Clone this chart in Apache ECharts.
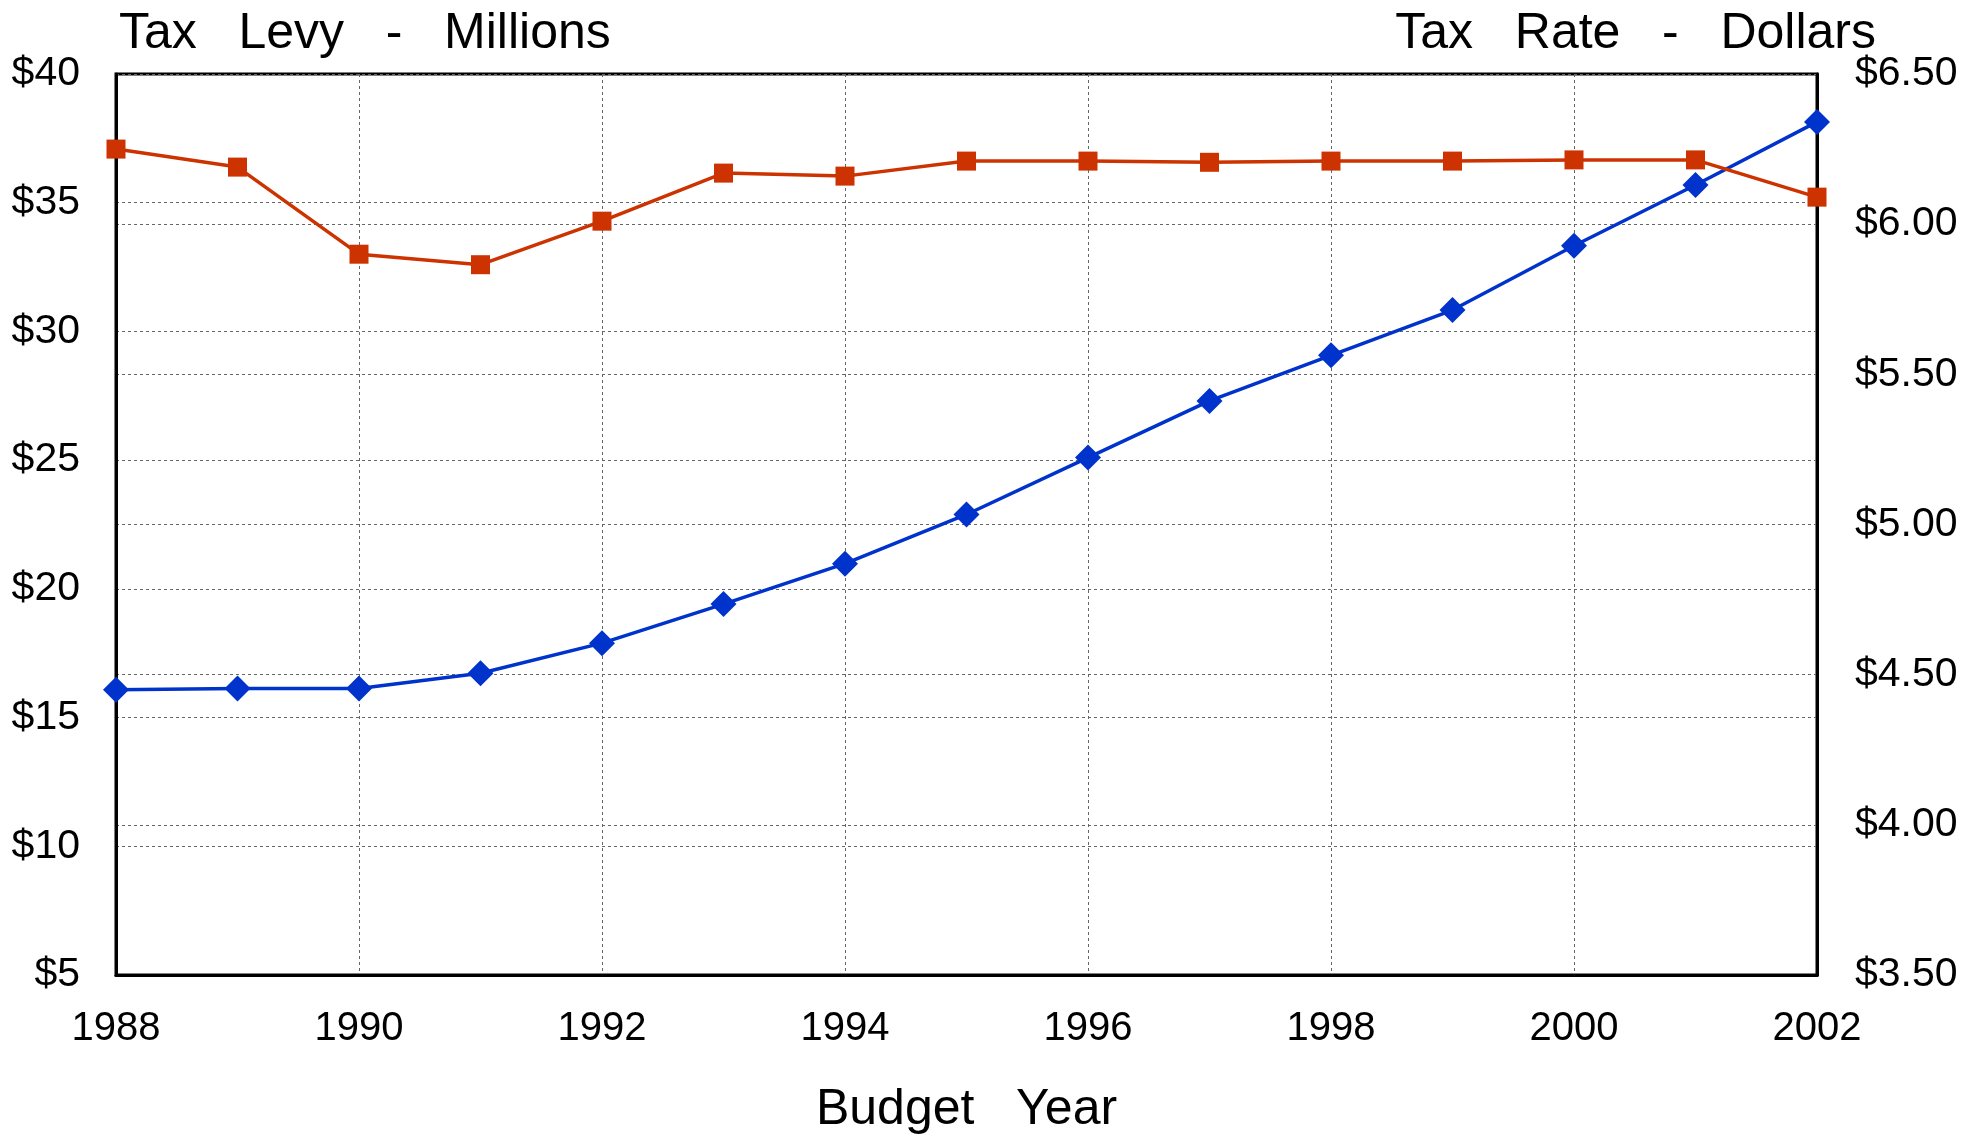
<!DOCTYPE html>
<html>
<head>
<meta charset="utf-8">
<script src="https://cdn.jsdelivr.net/npm/echarts@6/dist/echarts.min.js"></script>
<style>
html,body{margin:0;padding:0;background:#fff;}
#chart{width:1977px;height:1138px;}
</style>
</head>
<body>
<div id="chart"></div>
<script>
const years = ['1988','1989','1990','1991','1992','1993','1994','1995','1996','1997','1998','1999','2000','2001','2002'];
const taxLevyMillions = [16.08, 16.13, 16.13, 16.72, 17.89, 19.41, 20.98, 22.89, 25.10, 27.30, 29.07, 30.83, 33.33, 35.69, 38.14];
const taxRateDollars = [6.25, 6.19, 5.90, 5.865, 6.01, 6.17, 6.16, 6.21, 6.21, 6.206, 6.21, 6.21, 6.214, 6.214, 6.09];
const leftTitle = 'Tax   Levy   -   Millions';
const rightTitle = 'Tax   Rate   -   Dollars';
const xTitle = 'Budget   Year';

const FONT = "'Liberation Sans', Arial, sans-serif";
const chart = echarts.init(document.getElementById('chart'), null, {renderer: 'canvas'});
const gridLine = {show: true, lineStyle: {color: '#666', width: 1, type: [3, 3]}};

chart.setOption({
  backgroundColor: '#fff',
  animation: false,
  title: [
    {text: leftTitle, left: 114, top: 4, textStyle: {fontFamily: FONT, fontSize: 50, fontWeight: 'normal', color: '#000'}},
    {text: rightTitle, right: 96, top: 4, textStyle: {fontFamily: FONT, fontSize: 50, fontWeight: 'normal', color: '#000'}}
  ],
  grid: {left: 116, right: 160, top: 74, bottom: 163, show: true, borderColor: '#000', borderWidth: 3,
         backgroundColor: 'transparent', containLabel: false, outerBoundsMode: 'none'},
  xAxis: {
    type: 'category',
    data: years,
    boundaryGap: false,
    name: xTitle,
    nameLocation: 'middle',
    nameGap: 110,
    nameTextStyle: {fontFamily: FONT, fontSize: 50, color: '#000'},
    axisLine: {show: true, lineStyle: {color: '#000', width: 3}},
    axisTick: {show: false},
    axisLabel: {interval: 1, fontFamily: FONT, fontSize: 40, color: '#000', margin: 34},
    splitLine: {show: true, interval: 1, lineStyle: {color: '#666', width: 1, type: [3, 3]}}
  },
  yAxis: [
    {
      type: 'value', min: 5, max: 40, interval: 5, position: 'left',
      axisLine: {show: true, lineStyle: {color: '#000', width: 3}},
      axisTick: {show: false},
      axisLabel: {fontFamily: FONT, fontSize: 41, color: '#000', margin: 36, formatter: v => '$' + v},
      splitLine: gridLine
    },
    {
      type: 'value', min: 3.5, max: 6.5, interval: 0.5, position: 'right',
      axisLine: {show: true, lineStyle: {color: '#000', width: 3}},
      axisTick: {show: false},
      axisLabel: {fontFamily: FONT, fontSize: 41, color: '#000', margin: 38, formatter: v => '$' + v.toFixed(2)},
      splitLine: gridLine
    }
  ],
  series: [
    {
      name: 'Tax Levy', type: 'line', yAxisIndex: 0, data: taxLevyMillions,
      symbol: 'diamond', symbolSize: 26,
      lineStyle: {color: '#0033CC', width: 3.5},
      itemStyle: {color: '#0033CC'}, z: 3
    },
    {
      name: 'Tax Rate', type: 'line', yAxisIndex: 1, data: taxRateDollars,
      symbol: 'rect', symbolSize: 19,
      lineStyle: {color: '#CC3300', width: 3.5},
      itemStyle: {color: '#CC3300'}, z: 4
    }
  ]
});
</script>
</body>
</html>
